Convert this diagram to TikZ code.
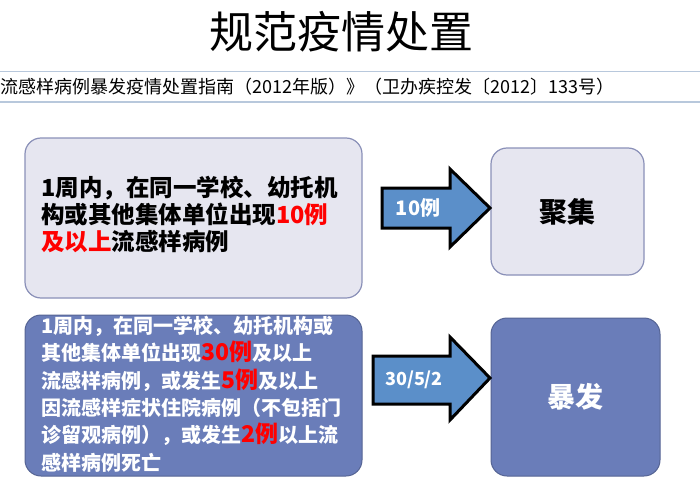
\documentclass[tikz,border=0pt]{standalone}
\usepackage{fontspec}
\setmainfont{Noto Sans CJK SC}
\definecolor{lightbox}{HTML}{E6E6F0}
\definecolor{lightedge}{HTML}{8A90B8}
\definecolor{darkbox}{HTML}{6A7DB9}
\definecolor{arrowfill}{HTML}{5B8FC9}
\definecolor{rulec}{HTML}{B8C8DC}
\tikzset{
  lbox/.style={draw=lightedge,line width=1.2pt,fill=lightbox,rounded corners=16pt},
  dbox/.style={draw=darkbox!80!black,line width=1pt,fill=darkbox,rounded corners=16pt},
  bigarrow/.style={draw=black,line width=3pt,fill=arrowfill,line join=miter}
}
\newcommand{\rtxt}[1]{{\color{red}\fontsize{23}{27}\selectfont #1}}
\begin{document}
\begin{tikzpicture}[x=1pt,y=-1pt]
\useasboundingbox (0,0) rectangle (700,500);
\node (title) at (341,32) {\fontsize{44}{48}\selectfont 规范疫情处置};
\draw[rulec,line width=1pt] (0,72) -- (700,72);
\draw[rulec,line width=1pt] (0,102) -- (700,102);
\node[anchor=west,inner sep=0,font=\fontsize{18}{20}\selectfont] (src) at (0,87) {流感样病例暴发疫情处置指南（2012年版）》（卫办疾控发〔2012〕133号）};
% boxes
\draw[lbox] (25,138) rectangle (362,298);
\node[anchor=north west,align=left,inner sep=0,font=\bfseries\fontsize{23.5}{27}\selectfont] (t1) at (41,176)
{1周内，在同一学校、幼托机\\构或其他集体单位出现{\color{red}10例}\\{\color{red}及以上}流感样病例};
\draw[lbox] (491,148) rectangle (644,275);
\node[font=\bfseries\fontsize{28}{30}\selectfont] (jj) at (567,212) {聚集};
\draw[dbox] (25,315) rectangle (362,476);
\node[anchor=north west,align=left,inner sep=0,text=white,font=\bfseries\fontsize{20}{27.3}\selectfont] (t2) at (41,316)
{1周内，在同一学校、幼托机构或\\其他集体单位出现\rtxt{30例}及以上\\流感样病例，或发生\rtxt{5例}及以上\\因流感样症状住院病例（不包括门\\诊留观病例），或发生\rtxt{2例}以上流\\感样病例死亡};
\draw[dbox] (491,318) rectangle (660,476);
\node[text=white,font=\bfseries\fontsize{28}{30}\selectfont] (bf) at (575,397) {暴发};
% arrows
\draw[bigarrow] (382,188) -- (450,188) -- (450,169) -- (490,208) -- (450,247) -- (450,228) -- (382,228) -- cycle;
\node[text=white,font=\bfseries\fontsize{20}{22}\selectfont] (a1) at (418,208) {10例};
\draw[bigarrow] (373,356) -- (450,356) -- (450,337) -- (490,378) -- (450,420) -- (450,404) -- (373,404) -- cycle;
\node[text=white,font=\bfseries\fontsize{18}{20}\selectfont] (a2) at (414,380) {30/5/2};
\end{tikzpicture}
\end{document}
